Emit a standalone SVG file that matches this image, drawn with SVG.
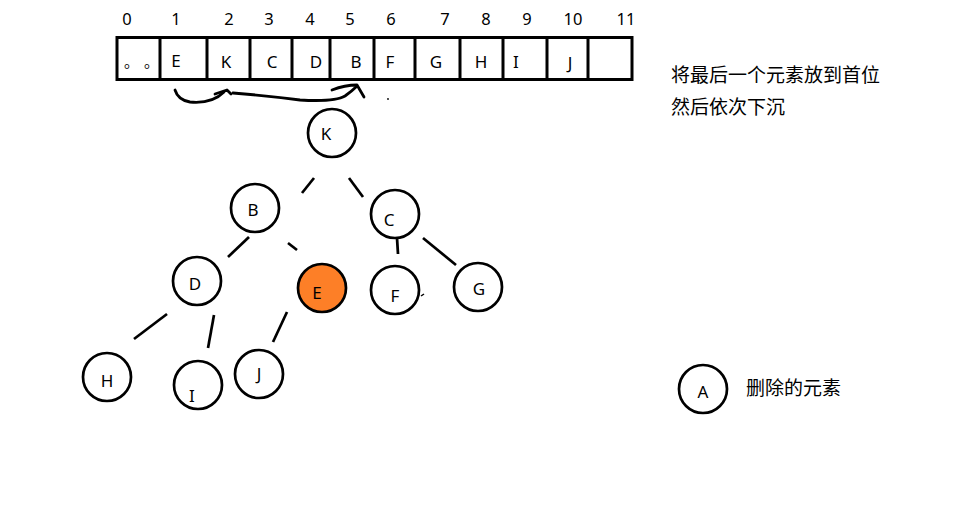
<svg xmlns="http://www.w3.org/2000/svg" width="960" height="532" viewBox="0 0 960 532">
<style>
text{font-family:"Noto Sans","Liberation Sans","Noto Sans CJK SC",sans-serif;fill:#000}
.lbl{font-size:17px;text-anchor:middle;dominant-baseline:central}
.idx{font-size:16.5px;text-anchor:middle;dominant-baseline:central}
.cn{font-family:"Noto Sans CJK SC","Noto Sans",sans-serif;font-size:19px;dominant-baseline:central}
.dot{font-family:"Noto Sans CJK SC",sans-serif;font-size:15px;dominant-baseline:central}
.node{fill:#fff;stroke:#000;stroke-width:2.7}
.hot{fill:#FD7F27;stroke:#000;stroke-width:2.7}
.edge{stroke:#000;stroke-width:2.7;fill:none;stroke-linecap:butt}
.cell{fill:none;stroke:#000;stroke-width:3}
.ink{stroke:#000;stroke-width:2.8;fill:none;stroke-linecap:round;stroke-linejoin:round}
</style>
<rect width="960" height="532" fill="#fff"/>
<g id="indices">
<text class="idx" x="127" y="18">0</text>
<text class="idx" x="176" y="18">1</text>
<text class="idx" x="229" y="18">2</text>
<text class="idx" x="269" y="18">3</text>
<text class="idx" x="310" y="18">4</text>
<text class="idx" x="350" y="18">5</text>
<text class="idx" x="391" y="18">6</text>
<text class="idx" x="445" y="18">7</text>
<text class="idx" x="486" y="18">8</text>
<text class="idx" x="527" y="18">9</text>
<text class="idx" x="573" y="18">10</text>
<text class="idx" x="626" y="18">11</text>
</g>
<g id="array">
<rect class="cell" x="117" y="37.5" width="515" height="42"/>
<path class="cell" d="M160 37V80M207 37V80M250 37V80M292 37V80M330 37V80M374 37V80M415 37V80M460 37V80M503 37V80M547 37V80M588 37V80"/>
<text class="dot" x="124" y="60">。</text>
<text class="dot" x="144" y="60">。</text>
<text class="lbl" x="176" y="60">E</text>
<text class="lbl" x="226" y="61">K</text>
<text class="lbl" x="272" y="61">C</text>
<text class="lbl" x="316" y="61">D</text>
<text class="lbl" x="356" y="61">B</text>
<text class="lbl" x="390" y="61">F</text>
<text class="lbl" x="436" y="61">G</text>
<text class="lbl" x="481" y="61">H</text>
<text class="lbl" x="516" y="61">I</text>
<text class="lbl" x="570" y="62">J</text>
</g>
<g id="swap-arrows">
<path class="ink" d="M175 90 Q178 100 190 102 Q212 104 224 92"/>
<path class="ink" d="M215 94 L227 90 L231 94"/>
<path class="ink" d="M233 93 Q270 96 300 100 Q335 102 345 96 Q352 91 356 87"/>
<path class="ink" d="M332 90 Q345 85 357 85 L364 97"/>
<circle cx="388" cy="99" r="0.9" fill="#000"/>
</g>
<g id="connectors">
<line class="edge" x1="314" y1="178" x2="302" y2="193"/>
<line class="edge" x1="349" y1="178" x2="363" y2="197"/>
<line class="edge" x1="249" y1="237" x2="228" y2="257"/>
<line class="edge" x1="288" y1="243" x2="297" y2="250"/>
<line class="edge" x1="167" y1="314" x2="134" y2="339"/>
<line class="edge" x1="214" y1="315" x2="208" y2="348"/>
<line class="edge" x1="287" y1="312" x2="273" y2="342"/>
<line class="edge" x1="397" y1="238" x2="398" y2="254"/>
<line class="edge" x1="423" y1="238" x2="456" y2="265"/>
</g>
<g id="node-K"><circle class="node" cx="332" cy="133" r="24"/><text class="lbl" x="326" y="133">K</text></g>
<g id="node-B"><circle class="node" cx="255" cy="208" r="24"/><text class="lbl" x="253" y="209">B</text></g>
<g id="node-C"><circle class="node" cx="395" cy="214" r="24"/><text class="lbl" x="389" y="219">C</text></g>
<g id="node-D"><circle class="node" cx="197" cy="281" r="24"/><text class="lbl" x="195" y="283">D</text></g>
<g id="node-E"><circle class="hot" cx="322" cy="288" r="24"/><text class="lbl" x="317" y="292">E</text></g>
<g id="node-F"><circle class="node" cx="395" cy="290" r="24"/><text class="lbl" x="395" y="295">F</text><path d="M421 296 l3 -2" stroke="#000" stroke-width="1.5"/></g>
<g id="node-G"><circle class="node" cx="478" cy="287" r="24"/><text class="lbl" x="479" y="288">G</text></g>
<g id="node-H"><circle class="node" cx="107" cy="377" r="24"/><text class="lbl" x="107" y="380">H</text></g>
<g id="node-I"><circle class="node" cx="198" cy="385" r="24"/><text class="lbl" x="192" y="395">I</text></g>
<g id="node-J"><circle class="node" cx="259" cy="374" r="24"/><text class="lbl" x="259" y="373">J</text></g>
<g id="note">
<text class="cn" x="671" y="73">将最后一个元素放到首位</text>
<text class="cn" x="671" y="105">然后依次下沉</text>
</g>
<g id="legend">
<circle class="node" cx="703" cy="389" r="24"/>
<text class="lbl" x="703" y="391">A</text>
<text class="cn" x="746" y="386">删除的元素</text>
</g>
</svg>
